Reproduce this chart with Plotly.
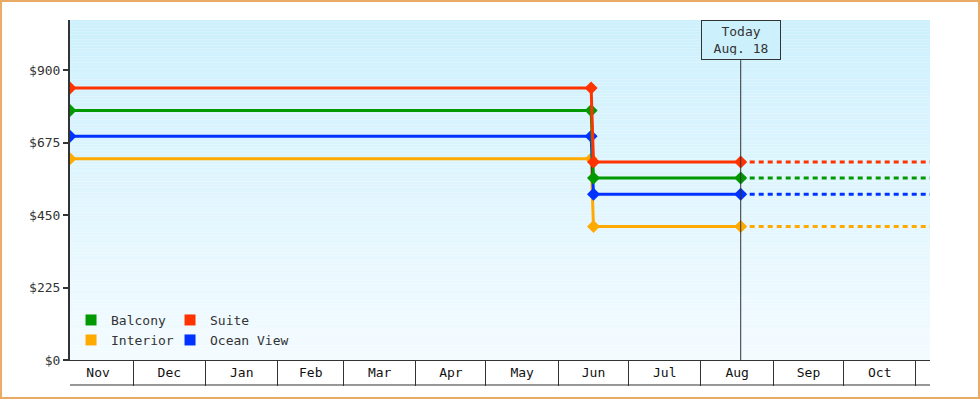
import plotly.graph_objects as go

# price history (x = dates of price points)
dates = ["2022-11-04", "2023-06-15", "2023-06-16", "2023-08-18"]
proj_dates = ["2023-08-18", "2023-11-07"]
x_range = ["2022-11-04", "2023-11-07"]
today = "2023-08-18"

balcony = [775, 775, 565, 565]
suite = [845, 845, 615, 615]
interior = [625, 625, 415, 415]
ocean_view = [695, 695, 515, 515]

y_ticks = [0, 225, 450, 675, 900]
y_labels = ["$0", "$225", "$450", "$675", "$900"]

FONT = "DejaVu Sans Mono"
DARK = "#333333"

series = [
    ("Interior", interior, "#ffaa00"),
    ("Ocean View", ocean_view, "#0033ff"),
    ("Balcony", balcony, "#009900"),
    ("Suite", suite, "#ff3300"),
]

fig = go.Figure()

for name, vals, color in series:
    fig.add_trace(
        go.Scatter(
            x=dates, y=vals, mode="lines+markers", name=name,
            line=dict(color=color, width=3),
            marker=dict(color=color, size=10, symbol="diamond"),
            showlegend=False,
        )
    )
    fig.add_trace(
        go.Scatter(
            x=proj_dates, y=[vals[-1], vals[-1]], mode="lines", name=name,
            line=dict(color=color, width=3, dash="5px,4px"),
            showlegend=False,
        )
    )

# empty trace so the month-separator axis gets drawn
fig.add_trace(go.Scatter(x=x_range, y=[None, None], xaxis="x2", showlegend=False))

# legend-only entries (square swatches), one legend box each: (name, legend, x, y)
legend_slots = [
    ("Balcony", "legend", 0.0012, 0.1176),
    ("Suite", "legend2", 0.1163, 0.1176),
    ("Interior", "legend3", 0.0012, 0.0588),
    ("Ocean View", "legend4", 0.1163, 0.0588),
]
lookup = {s[0]: s for s in series}
legend_layout = {}
for name, leg, lx, ly in legend_slots:
    color = lookup[name][2]
    fig.add_trace(
        go.Scatter(
            x=[None], y=[None], mode="markers", name=name, legend=leg,
            marker=dict(color=color, size=11, symbol="square"),
        )
    )
    legend_layout[leg] = dict(
        x=lx, y=ly, xanchor="left", yanchor="middle",
        bgcolor="rgba(0,0,0,0)", font=dict(family=FONT, size=13, color=DARK),
    )

# vertical gradient background
shapes = []
n_bands = 120
top = (204, 240, 253)
bottom = (243, 251, 255)
for i in range(n_bands):
    t = i / (n_bands - 1)
    c = tuple(round(top[k] + (bottom[k] - top[k]) * t) for k in range(3))
    shapes.append(dict(
        type="rect", xref="paper", yref="paper",
        x0=0, x1=1, y0=1 - (i + 1) / n_bands, y1=1 - i / n_bands,
        fillcolor="rgb(%d,%d,%d)" % c, line=dict(width=0), layer="below",
    ))

# today marker line
shapes.append(dict(
    type="line", xref="x", yref="paper", x0=today, x1=today, y0=0, y1=0.882,
    line=dict(color=DARK, width=1),
))
# bottom line of month boxes
shapes.append(dict(
    type="line", xref="paper", yref="paper", x0=0, x1=1, y0=-0.0735, y1=-0.0735,
    line=dict(color=DARK, width=1),
))
# outer border
shapes.append(dict(
    type="rect", xref="paper", yref="paper",
    x0=-0.0802, x1=1.0570, y0=-0.1118, y1=1.0559,
    line=dict(color="#e9aa66", width=2),
))

fig.add_annotation(
    x=today, y=1, xref="x", yref="paper", yanchor="top",
    text="Today<br>Aug. 18", showarrow=False,
    width=70, height=30, borderpad=4,
    bordercolor=DARK, borderwidth=1, bgcolor="#cdf0fd",
    font=dict(family=FONT, size=13, color=DARK),
)

fig.update_layout(
    width=980, height=400,
    margin=dict(l=70, r=50, t=20, b=40),
    paper_bgcolor="white", plot_bgcolor="white",
    font=dict(family=FONT, size=13, color=DARK),
    shapes=shapes,
    xaxis=dict(
        type="date", range=x_range, showgrid=False, zeroline=False,
        dtick="M1", tick0="2022-11-01", tickformat="%b", ticklabelmode="period",
        ticks="", showline=True, linecolor=DARK, linewidth=1,
        tickfont=dict(family=FONT, size=13, color="#111111"),
    ),
    xaxis2=dict(
        type="date", range=x_range, overlaying="x", anchor="y", side="bottom",
        dtick="M1", tick0="2022-11-01", ticks="outside", ticklen=25,
        tickwidth=1, tickcolor=DARK, showticklabels=False, showgrid=False,
        showline=False, zeroline=False,
    ),
    yaxis=dict(
        range=[0, 1056], tickvals=y_ticks, ticktext=y_labels,
        showgrid=False, zeroline=False, showline=True, linecolor=DARK, linewidth=2,
        ticks="outside", ticklen=5, tickwidth=2, tickcolor=DARK,
        tickfont=dict(family=FONT, size=13, color=DARK),
    ),
    hovermode=False,
    **legend_layout,
)

fig.write_html(
    "out.html",
    config={"displayModeBar": False},
    post_script="document.body.style.margin='0px';",
)
